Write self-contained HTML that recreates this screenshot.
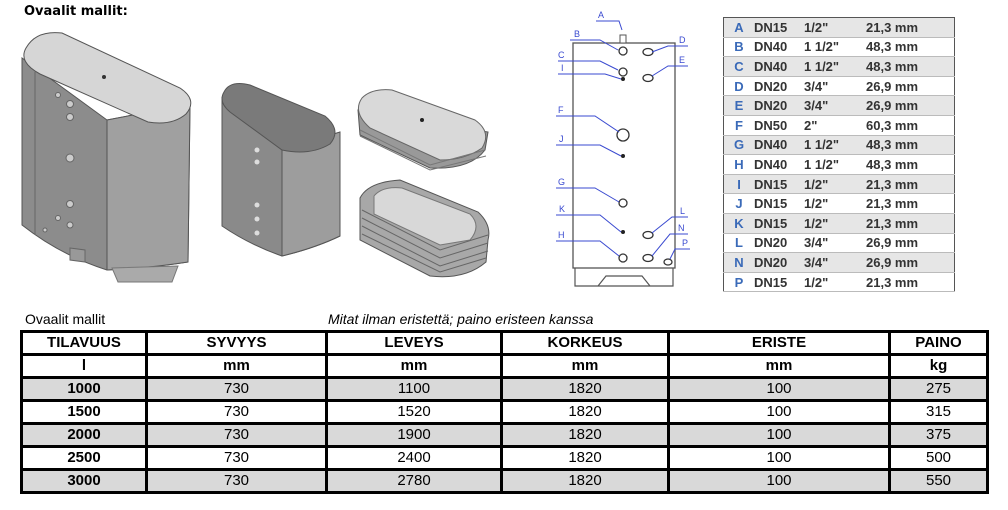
<!DOCTYPE html>
<html><head><meta charset="utf-8"><style>
body{margin:0;width:1008px;height:510px;background:#fff;position:relative;overflow:hidden;font-family:"Liberation Sans",Arial,sans-serif}
.abs{position:absolute}
table{border-collapse:collapse}
#ct{left:723px;top:17px;border:1.5px solid #555;font-weight:bold;font-size:13px;color:#333}
#ct td{height:18.6px;padding:0;border-bottom:1px solid #bbb}
#ct tr:nth-child(odd) td{background:#e6e6e6}
#ct td.l{width:30px;text-align:center;color:#3a6ab8}
#ct td.d{width:50px}
#ct td.i{width:62px}
#ct td.m{width:88px}
#mt{left:20px;top:330px;border:3px solid #000;font-size:15px}
#mt td{border:3px solid #000;text-align:center;padding:0;height:20px;line-height:20px}
#mt tr.h td{font-weight:bold}
#mt tr.g td{background:#d9d9d9}
#mt td.b{font-weight:bold}
</style></head><body>
<div class="abs" style="left:24px;top:4px;font-weight:bold;font-size:13px;font-family:'DejaVu Sans',sans-serif">Ovaalit mallit:</div>
<svg class="abs" style="left:0;top:0" width="720" height="300">
<!-- big tank -->
<path d="M22,58 L22,225 Q60,255 107,270 Q150,268 188,262 L190,104 L107,120 Z" fill="#8c8c8c" stroke="#555"/>
<path d="M107,120 L190,104 L188,262 Q150,268 107,270 Z" fill="#a0a0a0" stroke="#555"/>
<path d="M26,48 Q36,30 62,33 L180,88 Q198,100 186,114 Q172,126 148,122 L40,74 Q18,62 26,48 Z" fill="#d6d6d6" stroke="#555"/>
<line x1="35" y1="72" x2="35" y2="235" stroke="#666"/>
<circle cx="104" cy="77" r="2" fill="#333"/>
<g fill="#ccc" stroke="#666"><circle cx="70" cy="104" r="3.5"/><circle cx="70" cy="117" r="3.5"/><circle cx="70" cy="158" r="4"/><circle cx="70" cy="204" r="3.5"/><circle cx="70" cy="225" r="3"/><circle cx="58" cy="95" r="2.5"/><circle cx="58" cy="218" r="2.5"/><circle cx="45" cy="230" r="2"/></g>
<polygon points="70,248 85,250 85,262 70,260" fill="#999" stroke="#666"/>
<polygon points="112,268 178,266 172,282 118,282" fill="#aaa" stroke="#777"/>
<!-- shell -->
<path d="M222,98 L222,226 Q250,245 282,256 Q315,248 340,236 L340,132 L282,150 Z" fill="#8a8a8a" stroke="#555"/>
<path d="M282,150 L340,132 L340,236 Q315,248 282,256 Z" fill="#9d9d9d" stroke="#555"/>
<path d="M224,92 Q230,80 250,85 L325,116 Q342,130 330,144 Q310,156 282,150 L230,112 Q218,102 224,92 Z" fill="#7a7a7a" stroke="#555"/>
<g fill="#ddd"><circle cx="257" cy="150" r="2.5"/><circle cx="257" cy="162" r="2.5"/><circle cx="257" cy="205" r="2.5"/><circle cx="257" cy="219" r="2.5"/><circle cx="257" cy="233" r="2.5"/></g>
<!-- coil lid -->
<path d="M358,110 L360,135 L430,168 Q470,170 485,150 L488,132 Z" fill="#999" stroke="#555"/>
<path d="M362,98 Q372,88 392,90 L475,120 Q492,132 482,148 Q465,160 440,160 L370,128 Q352,112 362,98 Z" fill="#d9d9d9" stroke="#666"/>
<circle cx="422" cy="120" r="2" fill="#222"/>
<g stroke="#777" fill="none"><path d="M360,130 L430,165 L485,150"/><path d="M360,136 L430,170 L486,156"/></g>
<!-- coil bottom -->
<path d="M360,198 Q368,182 400,180 L478,212 Q492,225 488,240 L486,262 Q465,280 430,276 L360,240 Z" fill="#a8a8a8" stroke="#555"/>
<path d="M374,196 Q382,186 402,188 L470,214 Q482,226 470,240 L440,245 L374,214 Z" fill="#d8d8d8" stroke="#777"/>
<g stroke="#666" fill="none"><path d="M362,210 L440,250 L488,235"/><path d="M362,218 L440,258 L488,243"/><path d="M362,226 L440,266 L488,251"/><path d="M362,234 L440,272 L486,258"/></g>
<!-- tank diagram -->
<rect x="573" y="43" width="102" height="225" fill="#fff" stroke="#555" stroke-width="1.3"/>
<rect x="620" y="35" width="6" height="8" fill="#fff" stroke="#555"/>
<path d="M575,268 L575,286 L673,286 L673,268 M598,286 L606,276 L642,276 L650,286" fill="none" stroke="#555" stroke-width="1.2"/>
<g fill="#fff" stroke="#333" stroke-width="1.3">
<circle cx="623" cy="51" r="4"/><circle cx="623" cy="72" r="4"/><circle cx="623" cy="135" r="6"/><circle cx="623" cy="203" r="4"/><circle cx="623" cy="258" r="4"/>
<ellipse cx="648" cy="52" rx="5" ry="3.5"/><ellipse cx="648" cy="78" rx="5" ry="3.5"/><ellipse cx="648" cy="235" rx="5" ry="3.5"/><ellipse cx="648" cy="258" rx="5" ry="3.5"/><ellipse cx="668" cy="262" rx="4" ry="3"/></g>
<g fill="#222"><circle cx="623" cy="79" r="2"/><circle cx="623" cy="156" r="2"/><circle cx="623" cy="232" r="2"/></g>
<g stroke="#3a4ad0" fill="none" stroke-width="1">
<path d="M596,21 L619,21 L622,30"/><path d="M570,40 L600,40 L618,50"/><path d="M558,61 L600,61 L618,70"/><path d="M558,74 L605,74 L621,79"/>
<path d="M688,46 L668,46 L652,52"/><path d="M688,66 L668,66 L652,76"/>
<path d="M556,116 L595,116 L619,132"/><path d="M556,145 L600,145 L621,156"/><path d="M556,188 L595,188 L619,202"/><path d="M556,215 L600,215 L621,232"/><path d="M556,241 L600,241 L619,256"/>
<path d="M688,217 L672,217 L652,233"/><path d="M688,234 L670,234 L652,256"/><path d="M690,249 L675,249 L670,259"/></g>
<g font-size="9" fill="#3a4ad0" font-family="Liberation Sans,sans-serif">
<text x="598" y="18">A</text><text x="574" y="37">B</text><text x="558" y="58">C</text><text x="561" y="71">I</text><text x="679" y="43">D</text><text x="679" y="63">E</text>
<text x="558" y="113">F</text><text x="559" y="142">J</text><text x="558" y="185">G</text><text x="559" y="212">K</text><text x="558" y="238">H</text>
<text x="680" y="214">L</text><text x="678" y="231">N</text><text x="682" y="246">P</text></g>
</svg>
<table id="ct" class="abs">
<tr><td class="l">A</td><td class="d">DN15</td><td class="i">1/2"</td><td class="m">21,3 mm</td></tr>
<tr><td class="l">B</td><td class="d">DN40</td><td class="i">1 1/2"</td><td class="m">48,3 mm</td></tr>
<tr><td class="l">C</td><td class="d">DN40</td><td class="i">1 1/2"</td><td class="m">48,3 mm</td></tr>
<tr><td class="l">D</td><td class="d">DN20</td><td class="i">3/4"</td><td class="m">26,9 mm</td></tr>
<tr><td class="l">E</td><td class="d">DN20</td><td class="i">3/4"</td><td class="m">26,9 mm</td></tr>
<tr><td class="l">F</td><td class="d">DN50</td><td class="i">2"</td><td class="m">60,3 mm</td></tr>
<tr><td class="l">G</td><td class="d">DN40</td><td class="i">1 1/2"</td><td class="m">48,3 mm</td></tr>
<tr><td class="l">H</td><td class="d">DN40</td><td class="i">1 1/2"</td><td class="m">48,3 mm</td></tr>
<tr><td class="l">I</td><td class="d">DN15</td><td class="i">1/2"</td><td class="m">21,3 mm</td></tr>
<tr><td class="l">J</td><td class="d">DN15</td><td class="i">1/2"</td><td class="m">21,3 mm</td></tr>
<tr><td class="l">K</td><td class="d">DN15</td><td class="i">1/2"</td><td class="m">21,3 mm</td></tr>
<tr><td class="l">L</td><td class="d">DN20</td><td class="i">3/4"</td><td class="m">26,9 mm</td></tr>
<tr><td class="l">N</td><td class="d">DN20</td><td class="i">3/4"</td><td class="m">26,9 mm</td></tr>
<tr><td class="l">P</td><td class="d">DN15</td><td class="i">1/2"</td><td class="m">21,3 mm</td></tr>
</table>
<div class="abs" style="left:25px;top:311px;font-size:14px">Ovaalit mallit</div>
<div class="abs" style="left:328px;top:311px;font-size:14px;font-style:italic">Mitat ilman eristettä; paino eristeen kanssa</div>
<table id="mt" class="abs">
<tr class="h"><td style="width:122px">TILAVUUS</td><td style="width:177px">SYVYYS</td><td style="width:172px">LEVEYS</td><td style="width:164px">KORKEUS</td><td style="width:218px">ERISTE</td><td style="width:95px">PAINO</td></tr>
<tr class="h"><td>l</td><td>mm</td><td>mm</td><td>mm</td><td>mm</td><td>kg</td></tr>
<tr class="g"><td class="b">1000</td><td>730</td><td>1100</td><td>1820</td><td>100</td><td>275</td></tr>
<tr><td class="b">1500</td><td>730</td><td>1520</td><td>1820</td><td>100</td><td>315</td></tr>
<tr class="g"><td class="b">2000</td><td>730</td><td>1900</td><td>1820</td><td>100</td><td>375</td></tr>
<tr><td class="b">2500</td><td>730</td><td>2400</td><td>1820</td><td>100</td><td>500</td></tr>
<tr class="g"><td class="b">3000</td><td>730</td><td>2780</td><td>1820</td><td>100</td><td>550</td></tr>
</table>
</body></html>
